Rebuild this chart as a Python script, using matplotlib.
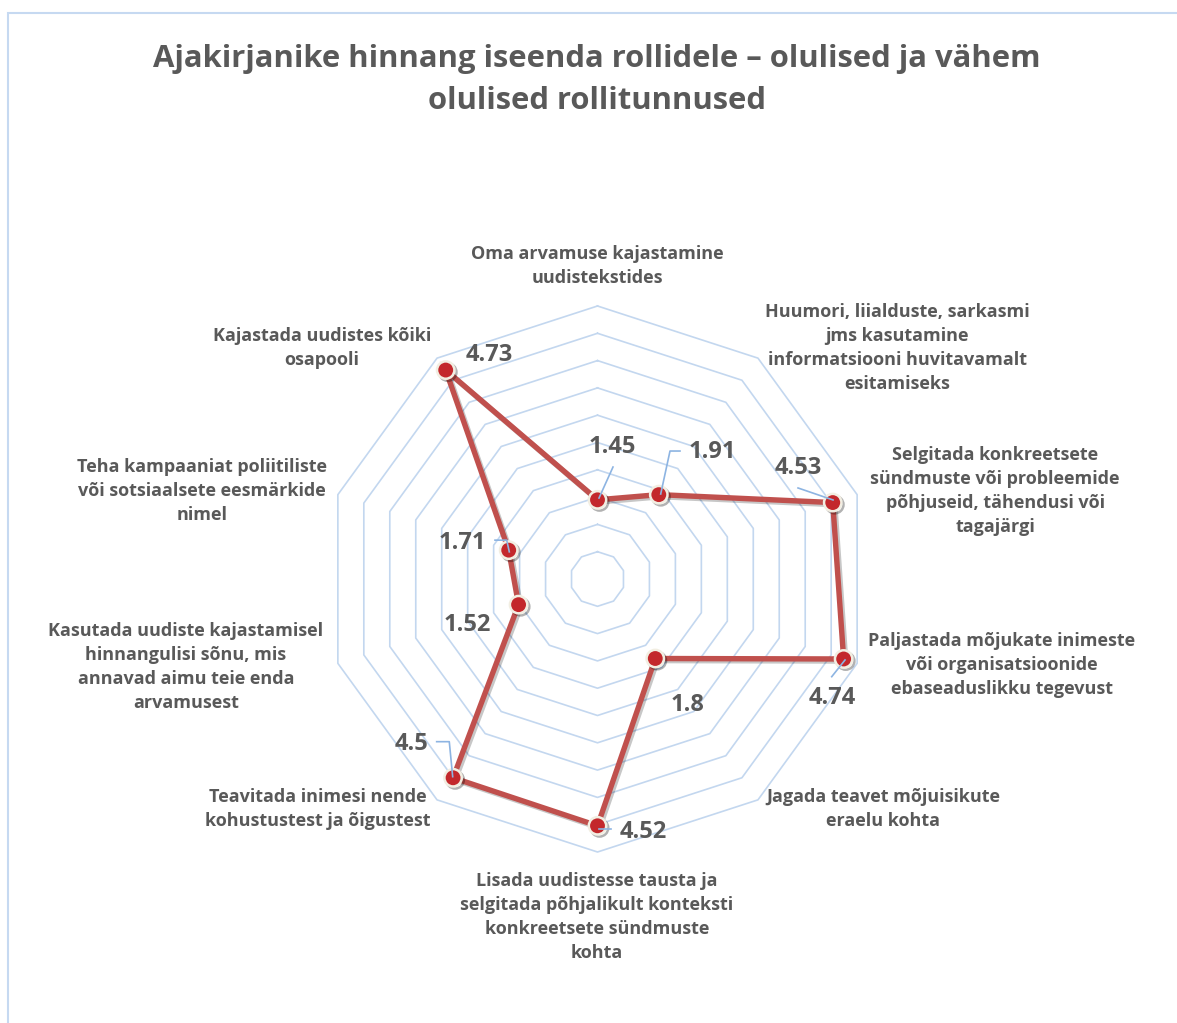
import numpy as np
import matplotlib
matplotlib.use("Agg")
import matplotlib.pyplot as plt
import matplotlib.patheffects as pe
from matplotlib.patches import Rectangle
from matplotlib.lines import Line2D
from matplotlib.transforms import IdentityTransform

plt.rcParams['font.family'] = ['Open Sans', 'DejaVu Sans']

title = "Ajakirjanike hinnang iseenda rollidele – olulised ja vähem\nolulised rollitunnused"
categories = [
    "Oma arvamuse kajastamine\nuudistekstides",
    "Huumori, liialduste, sarkasmi\njms kasutamine\ninformatsiooni huvitavamalt\nesitamiseks",
    "Selgitada konkreetsete\nsündmuste või probleemide\npõhjuseid, tähendusi või\ntagajärgi",
    "Paljastada mõjukate inimeste\nvõi organisatsioonide\nebaseaduslikku tegevust",
    "Jagada teavet mõjuisikute\neraelu kohta",
    "Lisada uudistesse tausta ja\nselgitada põhjalikult konteksti\nkonkreetsete sündmuste\nkohta",
    "Teavitada inimesi nende\nkohustustest ja õigustest",
    "Kasutada uudiste kajastamisel\nhinnangulisi sõnu, mis\nannavad aimu teie enda\narvamusest",
    "Teha kampaaniat poliitiliste\nvõi sotsiaalsete eesmärkide\nnimel",
    "Kajastada uudistes kõiki\nosapooli",
]
values = [1.45, 1.91, 4.53, 4.74, 1.8, 4.52, 4.5, 1.52, 1.71, 4.73]
value_labels = ["1.45", "1.91", "4.53", "4.74", "1.8", "4.52", "4.5", "1.52", "1.71", "4.73"]
grid_levels = [0.5, 1.0, 1.5, 2.0, 2.5, 3.0, 3.5, 4.0, 4.5, 5.0]

# ---- layout (pixels in a 1177x1023 canvas, y downward) ----
W, H = 1177, 1023
cx, cy, R = 597.5, 579.0, 273.0
cat_pos = [(597, 266), (897, 348), (995, 491), (1002, 665), (883, 809),
           (597, 917), (318, 809), (186, 667), (202, 491), (322, 348)]
# label centre offsets from the point, image pixels (y downward)
lab_off = [(14.5, -52.8), (54, -42.6), (-34.7, -34.6), (-11.6, 39), (32.7, 46.5),
           (45.5, 6), (-42, -33.8), (-51.6, 20.4), (-46.7, -7), (43.3, -15)]
leaders = {
    0: [(15.5, -32.8), (1.5, -1.8)],
    1: [(21.2, -43.6), (11.2, -43.6), (1.9, -0.6)],
    2: [(-34.7, -14.6), (0.3, -2.6)],
    3: [(-11.9, 17.7), (1.4, 1.0)],
    5: [(1, 3), (13, 3)],
    6: [(-16.4, -36.1), (-3.8, -36.1), (-0.4, -1.1)],
    8: [(-13.7, -10), (-2, -10), (0.6, 1.7)],
}

text_c = "#595959"
grid_c = "#C3D7EF"
line_c = "#C0504D"
leader_c = "#8DB4E2"

fig = plt.figure(figsize=(W / 100, H / 100), dpi=100)
fig.patch.set_facecolor("white")
fig.add_artist(Rectangle((8 / W, -0.1), 1.2, (H - 13) / H + 0.1, transform=fig.transFigure,
                         fill=False, edgecolor="#C6D9F1", lw=1.5))

ax = fig.add_axes([(cx - R) / W, (H - cy - R) / H, 2 * R / W, 2 * R / H], projection="polar")
ax.set_theta_offset(np.pi / 2)
ax.set_theta_direction(-1)
ax.set_ylim(0, 5)
ax.set_axis_off()

n = len(categories)
theta = np.arange(n) * 2 * np.pi / n
th_closed = np.append(theta, theta[0])

for lv in grid_levels:
    ax.plot(th_closed, [lv] * (n + 1), color=grid_c, lw=1.2, zorder=1, clip_on=False)

vals_closed = values + [values[0]]
ax.plot(th_closed, vals_closed, color=line_c, lw=3.9, zorder=3, clip_on=False,
        solid_joinstyle="miter",
        path_effects=[pe.SimpleLineShadow(offset=(1.5, -1.5), shadow_color="black", alpha=0.22),
                      pe.Normal()])
ax.plot(theta, values, "o", ms=12.5, mfc="#C3282C", mec="#F2EEE2", mew=1.8, zorder=5,
        clip_on=False,
        path_effects=[pe.SimpleLineShadow(offset=(1.5, -1.5), shadow_color="black", alpha=0.3),
                      pe.Normal()])

for i in range(n):
    dx, dy = lab_off[i]
    ax.annotate(value_labels[i], xy=(theta[i], values[i]), xytext=(dx, -dy),
                textcoords="offset pixels", ha="center", va="center",
                fontsize=17, fontweight="bold", color=text_c, zorder=6)

fig.canvas.draw()
for i, pts in leaders.items():
    px, py = ax.transData.transform((theta[i], values[i]))
    xs = [px + dx for dx, dy in pts]
    ys = [py - dy for dx, dy in pts]
    fig.add_artist(Line2D(xs, ys, transform=IdentityTransform(), color=leader_c, lw=1.2, zorder=4))

for lab, (x, y) in zip(categories, cat_pos):
    fig.text(x / W, 1 - y / H, lab, ha="center", va="center", multialignment="center",
             fontsize=13, fontweight="bold", color=text_c, linespacing=1.42)

fig.text(597 / W, 1 - 80 / H, title, ha="center", va="center", multialignment="center",
         fontsize=22.3, fontweight="bold", color=text_c, linespacing=1.5)

fig.savefig("out.png", dpi=100)
